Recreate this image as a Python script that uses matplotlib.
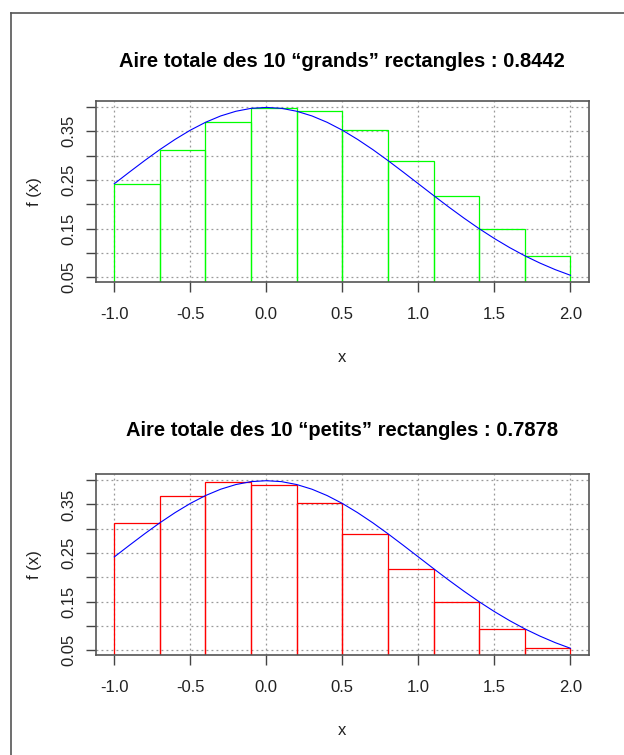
import matplotlib
matplotlib.use("Agg")
import matplotlib.pyplot as plt
from matplotlib.lines import Line2D

plt.rcParams['font.family'] = ['Liberation Sans', 'DejaVu Sans']

# curve f(x) read at steps of 0.1 from -1 to 2
curve_x = [-1.0, -0.9, -0.8, -0.7, -0.6, -0.5, -0.4, -0.3, -0.2, -0.1, 0.0,
           0.1, 0.2, 0.3, 0.4, 0.5, 0.6, 0.7, 0.8, 0.9, 1.0,
           1.1, 1.2, 1.3, 1.4, 1.5, 1.6, 1.7, 1.8, 1.9, 2.0]
curve_y = [0.2420, 0.2661, 0.2897, 0.3123, 0.3332, 0.3521, 0.3683, 0.3814, 0.3910, 0.3970, 0.3989,
           0.3970, 0.3910, 0.3814, 0.3683, 0.3521, 0.3332, 0.3123, 0.2897, 0.2661, 0.2420,
           0.2179, 0.1942, 0.1714, 0.1497, 0.1295, 0.1109, 0.0940, 0.0790, 0.0656, 0.0540]

# rectangles: left edges, width, heights
rect_left = [-1.0, -0.7, -0.4, -0.1, 0.2, 0.5, 0.8, 1.1, 1.4, 1.7]
rect_width = 0.3
grands = [0.2420, 0.3123, 0.3683, 0.3970, 0.3910, 0.3521, 0.2897, 0.2179, 0.1497, 0.0940]
petits = [0.3123, 0.3683, 0.3970, 0.3910, 0.3521, 0.2897, 0.2179, 0.1497, 0.0940, 0.0540]

titles = ["Aire totale des 10 \u201cgrands\u201d rectangles : 0.8442",
          "Aire totale des 10 \u201cpetits\u201d rectangles : 0.7878"]

xticks = [-1.0, -0.5, 0.0, 0.5, 1.0, 1.5, 2.0]
yticks = [0.05, 0.10, 0.15, 0.20, 0.25, 0.30, 0.35, 0.40]
ylabels = ["0.05", "", "0.15", "", "0.25", "", "0.35", ""]

W, H = 624, 755
fig = plt.figure(figsize=(W / 100, H / 100), dpi=100)

# outer frame (left and top edges visible)
fig.add_artist(Line2D([10.5 / W, 10.5 / W], [0, 1 - 13 / H], transform=fig.transFigure,
                      color="#555555", lw=1.2))
fig.add_artist(Line2D([10.5 / W, 1], [1 - 13 / H, 1 - 13 / H], transform=fig.transFigure,
                      color="#555555", lw=1.2))


def panel(top_px, bottom_px, heights, color, title, title_pad):
    left_px, right_px = 96, 588.7
    ax = fig.add_axes([left_px / W, 1 - bottom_px / H,
                       (right_px - left_px) / W, (bottom_px - top_px) / H])
    ax.set_xlim(-1.12, 2.12)
    ax.set_ylim(0.0402, 0.4127)
    ax.set_xticks(xticks)
    ax.set_xticklabels(["%.1f" % v for v in xticks])
    ax.set_yticks(yticks)
    ax.set_yticklabels(ylabels, rotation=90, va="center")
    ax.tick_params(axis="both", length=7, width=1, color="#444444", labelsize=12,
                   labelcolor="#222222")
    ax.tick_params(axis="x", pad=11)
    ax.tick_params(axis="y", pad=7)
    for s in ax.spines.values():
        s.set_color("#555555")
        s.set_linewidth(1.2)
    ax.grid(True, color="#999999", linestyle=(0, (1.5, 2.5)), linewidth=0.9)
    ax.set_axisbelow(True)

    ax.plot(curve_x, curve_y, color="#0000FF", lw=0.8)
    ax.bar(rect_left, heights, width=rect_width, bottom=0, align="edge",
           fill=False, edgecolor=color, linewidth=0.9)

    ax.set_xlabel("x", fontsize=12, color="#222222", labelpad=20)
    ax.set_ylabel("f (x)", fontsize=12, color="#222222", labelpad=14)
    ax.set_title(title, fontsize=14.5, fontweight="bold", pad=title_pad)
    return ax


panel(100.7, 282, grands, "#00FF00", titles[0], 24.5)
panel(474, 655, petits, "#FF0000", titles[1], 27)

fig.savefig("out.png", dpi=100)
